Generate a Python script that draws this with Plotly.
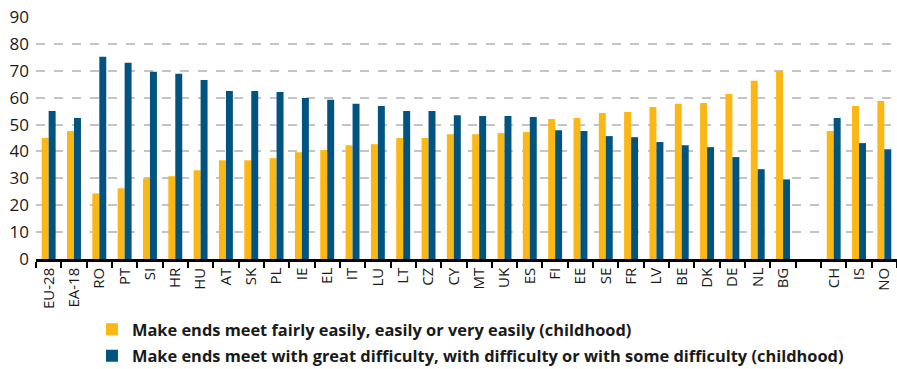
import plotly.graph_objects as go

countries = ["EU-28", "EA-18", "RO", "PT", "SI", "HR", "HU", "AT", "SK", "PL",
             "IE", "EL", "IT", "LU", "LT", "CZ", "CY", "MT", "UK", "ES",
             "FI", "EE", "SE", "FR", "LV", "BE", "DK", "DE", "NL", "BG",
             " ", "CH", "IS", "NO"]

easy = [45.0, 47.6, 24.4, 26.3, 30.0, 30.8, 33.0, 36.7, 36.7, 37.5,
        39.7, 40.5, 42.3, 42.7, 45.0, 45.0, 46.4, 46.4, 46.8, 47.2,
        52.1, 52.4, 54.3, 54.7, 56.5, 57.7, 58.0, 61.4, 66.3, 70.0,
        None, 47.6, 56.9, 58.8]

difficult = [55.0, 52.4, 75.2, 73.0, 69.6, 68.9, 66.6, 62.5, 62.5, 62.1,
             59.9, 59.2, 57.7, 56.9, 55.0, 55.0, 53.5, 53.2, 53.2, 52.8,
             47.9, 47.6, 45.7, 45.3, 43.5, 42.3, 41.6, 37.9, 33.4, 29.6,
             None, 52.4, 43.1, 40.8]

font_family = "Open Sans, sans-serif"

fig = go.Figure()
fig.add_trace(go.Bar(
    x=countries, y=easy,
    name="Make ends meet fairly easily, easily or very easily (childhood)",
    legendgroup="a",
    marker=dict(color="#FAB715", line=dict(width=0)),
))
fig.add_trace(go.Bar(
    x=countries, y=difficult,
    name="Make ends meet with great difficulty, with difficulty or with some difficulty (childhood)",
    legendgroup="b",
    marker=dict(color="#00547F", line=dict(width=0)),
))

fig.update_layout(
    width=897, height=369,
    barmode="group",
    bargap=0.45, bargroupgap=0,
    plot_bgcolor="white", paper_bgcolor="white",
    font=dict(family=font_family, color="#1a1a1a"),
    margin=dict(l=36, r=0, t=17, b=110),
    legend=dict(
        orientation="v",
        x=0.065, xanchor="left",
        yref="container", y=0.154, yanchor="top",
        font=dict(size=16.4, color="#1a1a1a", weight="bold"),
        itemwidth=30,
        tracegroupgap=2,
    ),
    xaxis=dict(
        type="category",
        tickangle=-90,
        tickfont=dict(size=15),
        showline=True, linecolor="black", linewidth=2.5,
        ticks="outside", tickson="boundaries", ticklen=6, tickwidth=2, tickcolor="black",
        showgrid=False,
    ),
    yaxis=dict(
        range=[0, 90],
        dtick=10,
        tickfont=dict(size=17),
        showgrid=True, gridcolor="#c4c4c4", gridwidth=1.5, griddash="dash",
        zeroline=False,
        ticks="", ticklabelstandoff=6,
    ),
)

fig.write_html("out.html", config={"displayModeBar": False},
               post_script="document.body.style.margin='0';")
